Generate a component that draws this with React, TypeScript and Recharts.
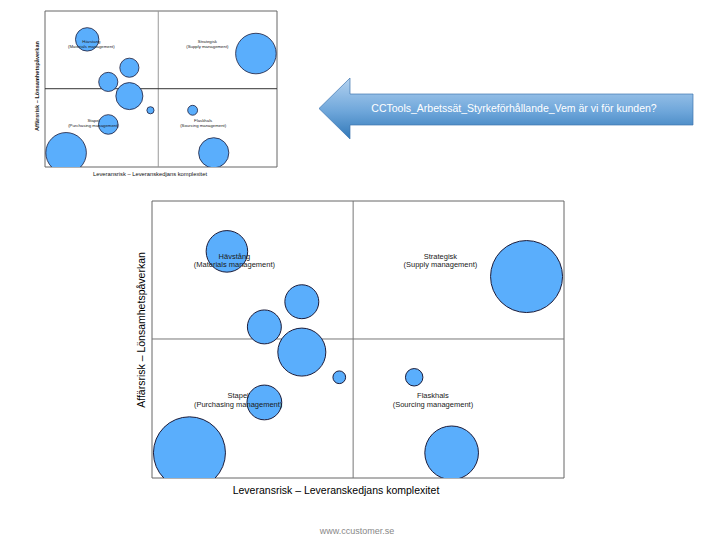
import React from "react";
import { ScatterChart, Scatter, XAxis, YAxis, ZAxis, ReferenceLine, ReferenceArea } from "recharts";

// bubble positions on an 0..11 grid, z = relative bubble area
const BUBBLE_X = [2, 4, 3, 4, 5, 3, 1, 7, 8, 10];
const BUBBLE_Y = [9, 7, 6, 5, 4, 3, 1, 4, 1, 8];
const BUBBLE_Z = [3, 2, 2, 4, 0.28, 2.1, 9, 0.53, 5, 9];

const QUADRANTS = ["Hävstång", "Strategisk", "Stapel", "Flaskhals"];
const SUBTITLES = ["(Materials management)", "(Supply management)", "(Purchasing management)", "(Sourcing management)"];
const LABEL_X = [2.2, 7.7, 2.3, 7.5];
const LABEL_Y = [8.65, 8.65, 3.1, 3.1];

const DIVIDER_X = 5.37;
const DIVIDER_Y = 5.52;

const X_TITLE = "Leveransrisk – Leveranskedjans komplexitet";
const Y_TITLE = "Affärsrisk – Lönsamhetspåverkan";
const BANNER = "CCTools_Arbetssät_Styrkeförhållande_Vem är vi för kunden?";
const FOOTER = "www.ccustomer.se";

const bubbles = BUBBLE_X.map((x, i) => ({ x, y: BUBBLE_Y[i], z: BUBBLE_Z[i] }));
const labels = QUADRANTS.map((name, i) => ({ x: LABEL_X[i], y: LABEL_Y[i], name, sub: SUBTITLES[i] }));

const FONT = "'Liberation Sans', Arial, sans-serif";

function Bubble(props: any) {
  const { cx, cy, width, size, strokeW } = props;
  const r = size ? Math.sqrt(size / Math.PI) : width / 2;
  return <circle cx={cx} cy={cy} r={r} fill="#5aaefc" stroke="#1c1c3a" strokeWidth={strokeW} />;
}

function QuadLabel(props: any) {
  const { cx, cy, payload, fs } = props;
  return (
    <text x={cx} y={cy} textAnchor="middle" fontFamily={FONT} fontSize={fs} fill="#1a1a1a">
      <tspan x={cx} y={cy - fs * 0.55} dominantBaseline="central" fill="#1a1a1a">{payload.name}</tspan>
      <tspan x={cx} y={cy + fs * 0.55} dominantBaseline="central" fill="#1a1a1a">{payload.sub}</tspan>
    </text>
  );
}

function Quadrant({ width, height, margin, zMax, strokeW, fs, hLine, vLine }: any) {
  // keep bubbles inside the frame, like the original slide
  const clip = `inset(${margin.top - 1}px ${margin.right - 1}px ${margin.bottom - 1}px ${margin.left - 1}px)`;
  return (
    <div style={{ position: "absolute", left: 0, top: 0, width, height, clipPath: clip }}>
      <ScatterChart width={width} height={height} margin={margin}>
        <XAxis type="number" dataKey="x" domain={[0, 11]} hide allowDataOverflow />
        <YAxis type="number" dataKey="y" domain={[0, 11]} hide allowDataOverflow />
        <ZAxis type="number" dataKey="z" domain={[0, 9]} range={[0, zMax]} />
        <ReferenceArea x1={0} x2={11} y1={0} y2={11} fill="none" stroke="#666" strokeWidth={1} />
        <ReferenceLine x={DIVIDER_X} stroke={vLine} />
        <ReferenceLine y={DIVIDER_Y} stroke={hLine} />
        <Scatter data={bubbles} isAnimationActive={false} shape={(p: any) => <Bubble {...p} strokeW={strokeW} />} />
        <Scatter data={labels} isAnimationActive={false} shape={(p: any) => <QuadLabel {...p} fs={fs} />} />
      </ScatterChart>
    </div>
  );
}

export default function App() {
  return (
    <div style={{ position: "absolute", left: 0, top: 0, width: 720, height: 540, background: "#fff", overflow: "hidden" }}>
      <svg width={720} height={540} style={{ position: "absolute", left: 0, top: 0 }}>
        <defs>
          <linearGradient id="arrowFill" x1="0" y1="0" x2="0" y2="1">
            <stop offset="0%" stopColor="#b3d2f0" />
            <stop offset="55%" stopColor="#6ea6da" />
            <stop offset="100%" stopColor="#3178b8" />
          </linearGradient>
        </defs>
        <path d="M319,108.5 L350,78 L350,94 L693,94 L693,125 L350,125 L350,139 Z" fill="url(#arrowFill)" stroke="#3f76b0" strokeWidth={0.7} />
        <text x={514} y={112} textAnchor="middle" fontFamily={FONT} fontSize={10.5} fill="#fff">{BANNER}</text>
        <text x={336} y={494} textAnchor="middle" fontFamily={FONT} fontSize={10.5} fill="#000">{X_TITLE}</text>
        <text transform="translate(145,330) rotate(-90)" textAnchor="middle" fontFamily={FONT} fontSize={10.5} fill="#000">{Y_TITLE}</text>
        <text x={150} y={176} textAnchor="middle" fontFamily={FONT} fontSize={5.8} fill="#111">{X_TITLE}</text>
        <text transform="translate(39,86) rotate(-90)" textAnchor="middle" fontFamily={FONT} fontSize={5.6} fontWeight="bold" fill="#111">{Y_TITLE}</text>
        <text x={357} y={534} textAnchor="middle" fontFamily={FONT} fontSize={9} fill="#888">{FOOTER}</text>
      </svg>
      <Quadrant width={300} height={180} margin={{ left: 45, top: 11, right: 23, bottom: 13 }} zMax={1292} strokeW={0.8} fs={4.3} hLine="#333" vLine="#999" />
      <Quadrant width={720} height={540} margin={{ left: 152, top: 201, right: 156, bottom: 62 }} zMax={4071} strokeW={1} fs={7.5} hLine="#777" vLine="#777" />
    </div>
  );
}
